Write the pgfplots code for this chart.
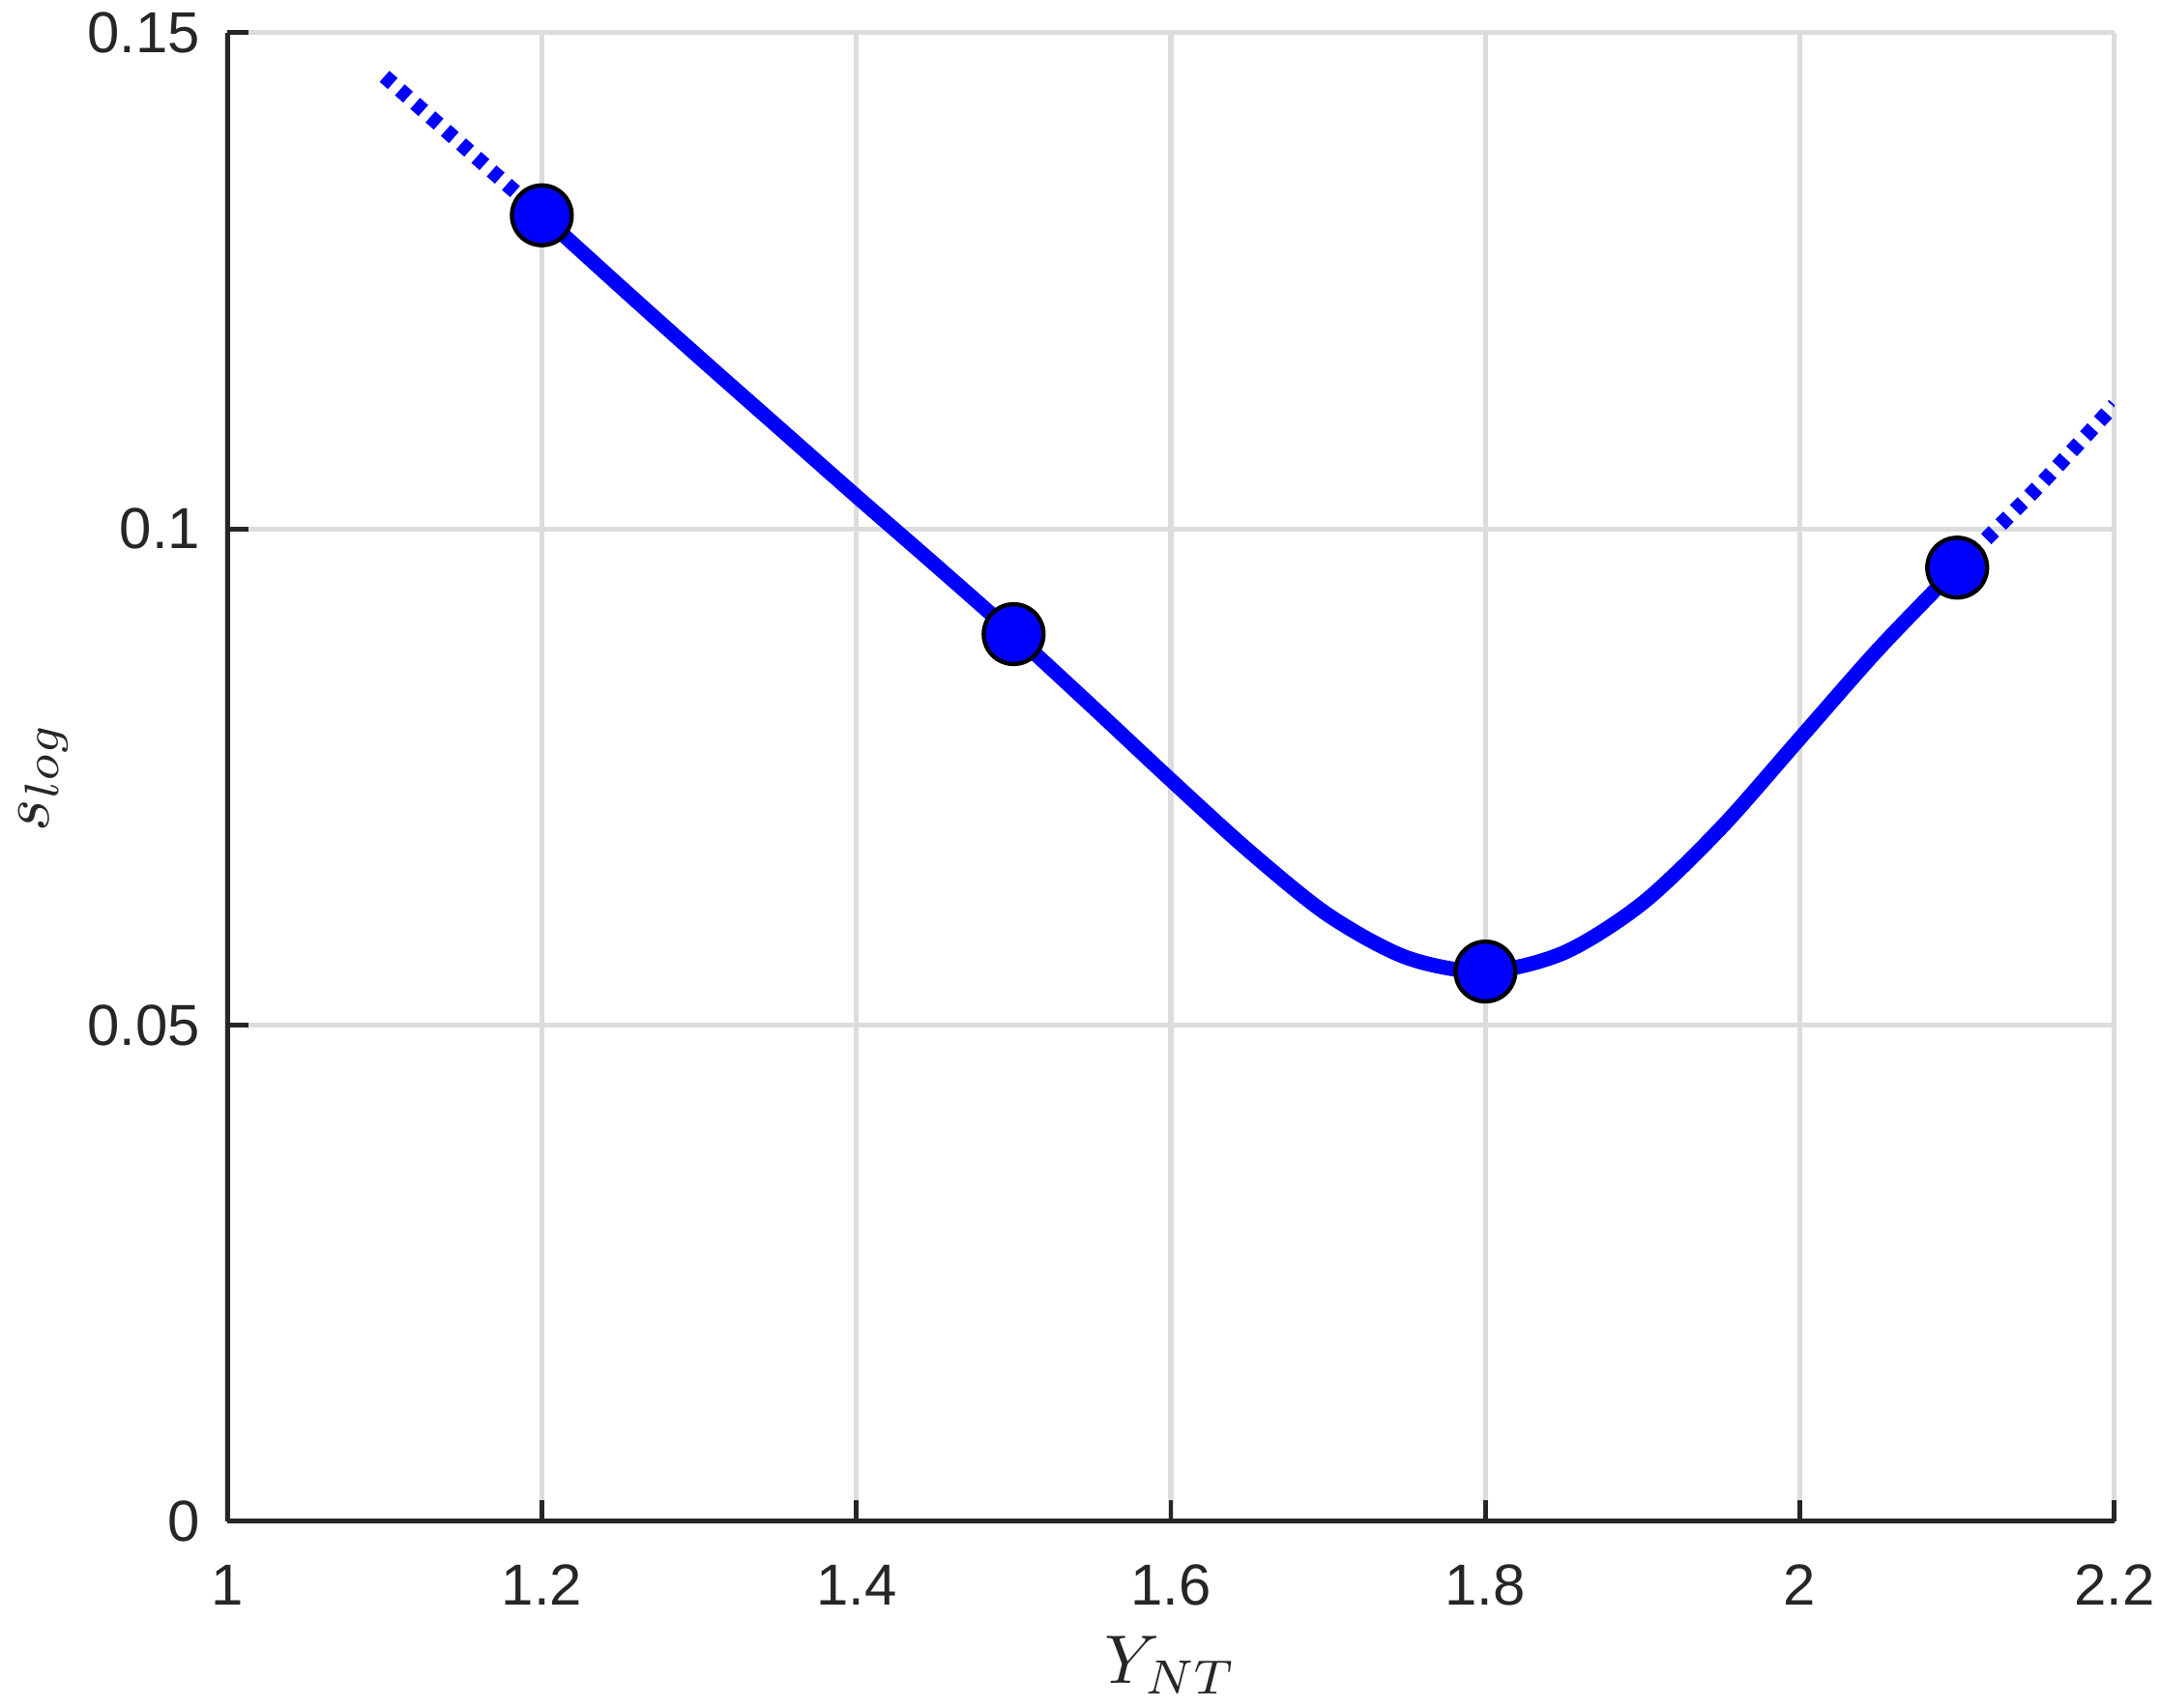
\documentclass[border=0pt]{standalone}
\usepackage{pgfplots}
\pgfplotsset{compat=1.18}
\usepackage{fontspec}
\setmainfont{Liberation Sans}
\definecolor{axgray}{HTML}{262626}
\definecolor{gridgray}{HTML}{DCDCDC}
\definecolor{mblue}{RGB}{0,0,255}
\begin{document}
\begin{tikzpicture}
\begin{axis}[
  name=ax,
  scale only axis,
  width=397.7pt, height=313.8pt,
  xmin=1, xmax=2.2, ymin=0, ymax=0.15,
  xtick={1,1.2,1.4,1.6,1.8,2,2.2},
  xticklabels={1,1.2,1.4,1.6,1.8,2,2.2},
  ytick={0,0.05,0.1,0.15},
  yticklabels={0,0.05,0.1,0.15},
  axis x line*=bottom, axis y line*=left,
  axis line style={-, color=axgray, line width=1pt},
  tick align=inside,
  major tick length=4.5pt,
  tick style={color=axgray, line width=1pt},
  grid=major,
  major grid style={color=gridgray, line width=1.05pt},
  tick label style={font=\fontsize{12.2}{14}\selectfont, color=axgray},
  yticklabel style={anchor=east, inner sep=0pt, xshift=-5.5pt},
  xticklabel style={anchor=north, inner sep=0pt, yshift=-9pt},
  xlabel={$Y_{NT}$},
  ylabel={$s_{log}$},
  label style={font=\fontsize{10}{12}\selectfont, scale=1.45, color=axgray},
  xlabel style={at={(axis description cs:0.5,-0.0765)}, anchor=north, inner sep=0pt},
  ylabel style={at={(axis description cs:-0.1111,0.5)}, anchor=north, inner sep=0pt},
]
% dotted extrapolations
\addplot[mblue, line width=3.1pt, dash pattern=on 2.3pt off 2pt, smooth] coordinates {
(1.10,0.1456) (1.15,0.1386) (1.20,0.1316)
};
\addplot[mblue, line width=3.1pt, dash pattern=on 2.3pt off 2pt, smooth] coordinates {
(2.10,0.0961) (2.15,0.1040) (2.20,0.1125)
};
% interpolated curve
\addplot[mblue, line width=3.1pt, smooth] coordinates {
(1.20,0.1316) (1.25,0.1244) (1.30,0.1173) (1.35,0.1103) (1.40,0.1033)
(1.45,0.0964) (1.50,0.0894) (1.55,0.0821) (1.60,0.0747) (1.65,0.0675)
(1.70,0.0611) (1.75,0.0568) (1.80,0.0554) (1.85,0.0573) (1.90,0.0623)
(1.95,0.0699) (2.00,0.0789) (2.05,0.0879) (2.10,0.0961)
};
% data points
\addplot[only marks, mark=*, mark size=6.3pt,
  mark options={fill=mblue, draw=black, line width=0.9pt, solid}] coordinates {
(1.2,0.1316) (1.5,0.0894) (1.8,0.0554) (2.1,0.0961)
};
\end{axis}
\pgfresetboundingbox
\path[use as bounding box] ([xshift=-47.9pt,yshift=-39.3pt]ax.south west) rectangle ([xshift=9.6pt,yshift=6.9pt]ax.north east);
\end{tikzpicture}
\end{document}
